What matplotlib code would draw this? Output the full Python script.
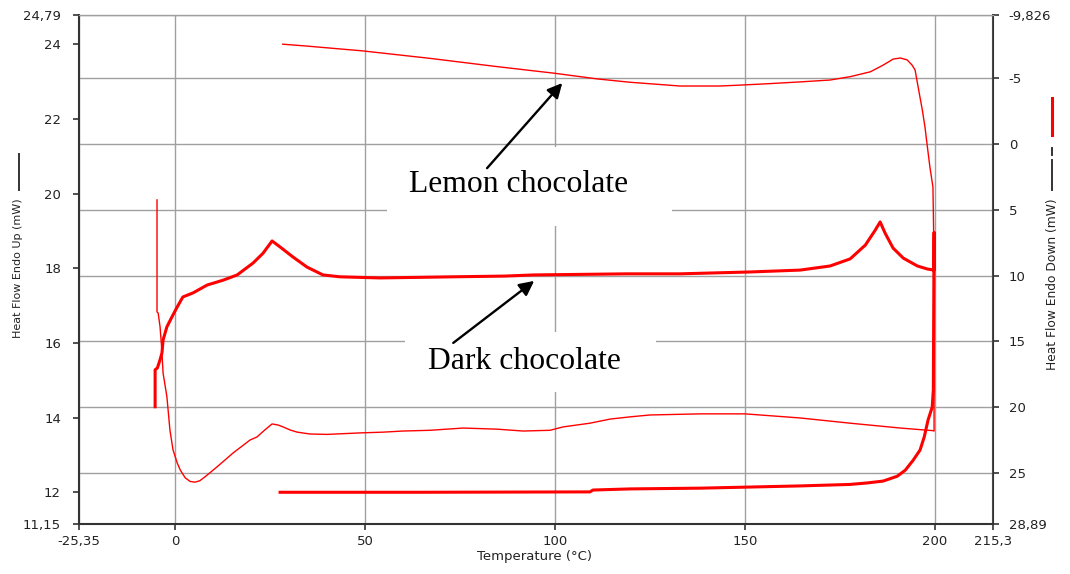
import matplotlib
matplotlib.use("Agg")
import matplotlib.pyplot as plt
from matplotlib.lines import Line2D
from matplotlib.patches import Rectangle

# ── DSC traces (left axis, mW) ─────────────────────────────────────────────
# lemon chocolate: heating branch, hold at 200 °C, then cooling branch back
lemon_temp = [
    28.3, 34.6, 49.4, 67.1, 84.7, 100.0, 111.1, 119.8, 132.9, 143.5, 154.0,
    164.5, 172.4, 177.7, 183.0, 186.4, 189.0, 190.9, 192.7, 194.0, 194.8,
    195.6, 196.7, 197.4, 197.9, 198.7, 199.5, 199.7, 199.8, 199.5, 190.9,
    177.7, 164.5, 150.0, 138.2, 125.0, 119.8, 114.5, 109.2, 102.1, 98.7,
    91.6, 84.7, 75.8, 67.1, 60.0, 54.7, 48.7, 40.0, 35.5, 32.1, 30.2, 28.4,
    27.1, 25.5, 23.6, 21.5, 19.7, 15.2, 11.0, 8.4, 6.5, 5.2, 3.9, 2.6, 1.3,
    0.5, -0.6, -1.4, -2.2, -3.2, -3.6, -4.0, -4.5, -4.8, -4.8,
]
lemon_hf = [
    24.00, 23.95, 23.82, 23.62, 23.40, 23.22, 23.07, 22.98, 22.88, 22.88,
    22.93, 22.99, 23.04, 23.13, 23.26, 23.44, 23.60, 23.63, 23.58, 23.44,
    23.31, 22.85, 22.24, 21.78, 21.36, 20.71, 20.17, 18.84, 13.64, 13.65,
    13.72, 13.85, 13.99, 14.10, 14.10, 14.07, 14.02, 13.96, 13.85, 13.75,
    13.66, 13.64, 13.69, 13.72, 13.66, 13.64, 13.61, 13.59, 13.55, 13.56,
    13.61, 13.67, 13.75, 13.80, 13.83, 13.67, 13.48, 13.40, 13.05, 12.68,
    12.46, 12.31, 12.27, 12.29, 12.39, 12.60, 12.79, 13.14, 13.67, 14.56,
    15.19, 15.90, 16.43, 16.80, 16.83, 19.83,
]

# dark chocolate: lower branch, hold at 200 °C, then upper branch back
dark_temp = [
    27.6, 64.5, 109.2, 110.0, 119.8, 138.2, 151.4, 164.5, 177.7, 182.2,
    186.4, 190.1, 192.2, 194.3, 196.1, 197.2, 198.2, 199.3, 199.6, 199.8,
    199.8, 199.8, 198.0, 195.4, 191.7, 189.0, 186.9, 185.6, 184.3, 181.7,
    177.7, 172.4, 164.5, 151.4, 132.9, 119.0, 94.2, 86.8, 73.1, 53.9, 43.4,
    38.9, 34.7, 31.0, 27.6, 25.5, 23.1, 20.5, 16.3, 12.6, 8.4, 4.7, 2.0,
    0.5, -0.9, -2.2, -3.2, -3.5, -4.0, -4.7, -5.3, -5.3,
]
dark_hf = [
    12.00, 12.00, 12.01, 12.06, 12.09, 12.11, 12.14, 12.17, 12.21, 12.25,
    12.30, 12.43, 12.59, 12.86, 13.13, 13.48, 13.93, 14.28, 14.74, 18.96,
    17.95, 17.95, 17.98, 18.06, 18.27, 18.54, 18.94, 19.24, 19.02, 18.62,
    18.25, 18.06, 17.95, 17.90, 17.85, 17.85, 17.82, 17.79, 17.77, 17.74,
    17.77, 17.82, 18.03, 18.30, 18.57, 18.73, 18.40, 18.14, 17.82, 17.68,
    17.55, 17.34, 17.23, 16.96, 16.69, 16.43, 16.08, 15.73, 15.55, 15.33,
    15.28, 14.29,
]

# ── axis ticks ──────────────────────────────────────────────────────────────
x_ticks = [-25.35, 0, 50, 100, 150, 200, 215.3]
x_labels = ["-25,35", "0", "50", "100", "150", "200", "215,3"]
left_ticks = [11.15, 12, 14, 16, 18, 20, 22, 24, 24.79]
left_labels = ["11,15", "12", "14", "16", "18", "20", "22", "24", "24,79"]
right_ticks = [-9.826, -5, 0, 5, 10, 15, 20, 25, 28.89]
right_labels = ["-9,826", "-5", "0", "5", "10", "15", "20", "25", "28,89"]

RED = "#ff0000"
GRID = "#a0a0a0"
AXIS = "#333333"
TICKFONT = dict(family="DejaVu Sans", size=9.5, color="#222222")

fig = plt.figure(figsize=(10.7, 5.74), dpi=100)
fig.patch.set_facecolor("white")
ax = fig.add_axes([0.0738, 0.0871, 0.8542, 0.8873])
ax2 = ax.twinx()

# right axis carries the horizontal grid; keep it underneath the traces
ax.set_zorder(ax2.get_zorder() + 1)
ax.patch.set_visible(False)

ax.set_xlim(x_ticks[0], x_ticks[-1])
ax.set_ylim(left_ticks[0], left_ticks[-1])
ax2.set_ylim(right_ticks[-1], right_ticks[0])

ax.set_xticks(x_ticks)
ax.set_xticklabels(x_labels, **TICKFONT)
ax.set_yticks(left_ticks)
ax.set_yticklabels(left_labels, **TICKFONT)
ax2.set_yticks(right_ticks)
ax2.set_yticklabels(right_labels, **TICKFONT)

ax.tick_params(axis="x", direction="out", length=4.3, width=1.2, color=AXIS, pad=3.5)
ax.tick_params(axis="y", direction="out", length=4.3, width=1.2, color=AXIS, pad=8.6)
ax2.tick_params(axis="y", direction="out", length=4.3, width=1.2, color=AXIS, pad=7)

ax.grid(axis="x", color=GRID, lw=1.0)
ax.grid(axis="y", visible=False)
ax2.grid(axis="y", color=GRID, lw=1.0)

for side in ("left", "bottom"):
    ax.spines[side].set_color(AXIS)
    ax.spines[side].set_linewidth(1.5)
ax.spines["top"].set_color(GRID)
ax.spines["top"].set_linewidth(1.0)
ax.spines["right"].set_visible(False)
for side in ("left", "bottom", "top"):
    ax2.spines[side].set_visible(False)
ax2.spines["right"].set_color(AXIS)
ax2.spines["right"].set_linewidth(1.5)

# traces
ax.plot(lemon_temp, lemon_hf, color=RED, lw=1.0, zorder=3)
ax.plot(dark_temp, dark_hf, color=RED, lw=2.2, zorder=3, solid_joinstyle="round")

# white boxes behind the sample labels
for x0, y0, w, h in [(0.337, 0.585, 0.312, 0.155), (0.357, 0.259, 0.274, 0.118)]:
    ax.add_patch(Rectangle((x0, y0), w, h, transform=ax.transAxes,
                           facecolor="white", edgecolor="none", zorder=2.5))

serif = dict(family="Liberation Serif", size=22.8, color="black",
             ha="center", va="center", zorder=5)
ax.text(90.3, 20.25, "Lemon chocolate", **serif)
ax.text(91.9, 15.49, "Dark chocolate", **serif)

arrow = dict(arrowstyle="-|>", mutation_scale=22, lw=1.7, color="black",
             shrinkA=0, shrinkB=0)
ax.annotate("", xy=(101.9, 22.96), xytext=(82.1, 20.68), arrowprops=arrow, zorder=5)
ax.annotate("", xy=(94.5, 17.66), xytext=(73.2, 16.0), arrowprops=arrow, zorder=5)

# axis titles with their trace-style keys
fig.text(0.4995, 0.031, "Temperature (°C)", ha="center", va="center",
         family="DejaVu Sans", size=9.5, color="#222222")
fig.text(0.0168, 0.533, "Heat Flow Endo Up (mW)", rotation=90, ha="center",
         va="center", family="DejaVu Sans", size=8, color="#222222")
fig.text(0.9832, 0.5052, "Heat Flow Endo Down (mW)", rotation=90, ha="center",
         va="center", family="DejaVu Sans", size=8.8, color="#222222")

fig.add_artist(Line2D([0.0178, 0.0178], [0.669, 0.7317], transform=fig.transFigure,
                      color=AXIS, lw=1.4))
fig.add_artist(Line2D([0.9832, 0.9832], [0.7648, 0.8293], transform=fig.transFigure,
                      color=RED, lw=2.2))
fig.add_artist(Line2D([0.9832, 0.9832], [0.730, 0.7422], transform=fig.transFigure,
                      color=AXIS, lw=1.4))
fig.add_artist(Line2D([0.9832, 0.9832], [0.669, 0.7213], transform=fig.transFigure,
                      color=AXIS, lw=1.4))

fig.savefig("out.png", dpi=100, facecolor="white")
